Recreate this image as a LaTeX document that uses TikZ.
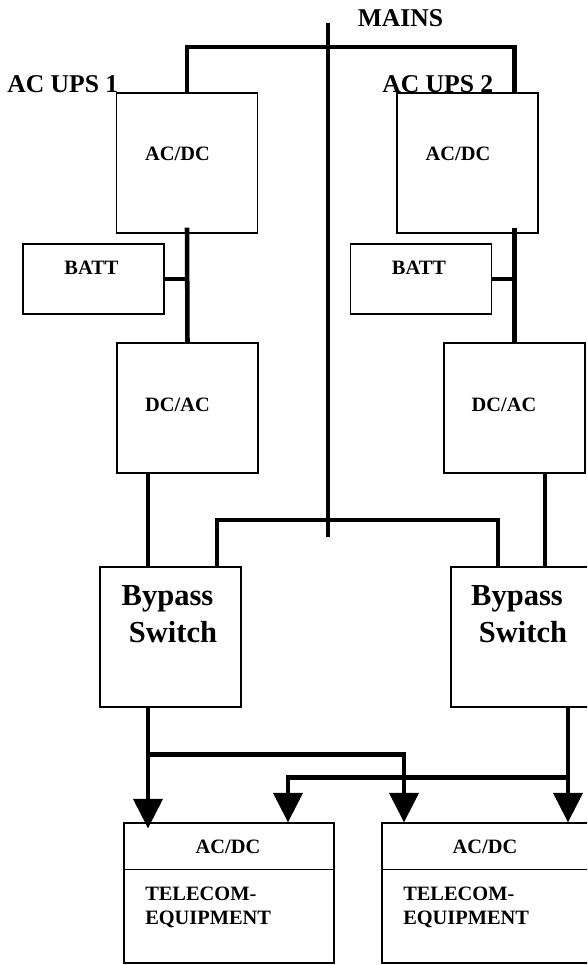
\documentclass[tikz,border=0pt]{standalone}
\usepackage{fontspec}
\setmainfont{Liberation Serif}
\usetikzlibrary{arrows.meta,calc}
\begin{document}
\begin{tikzpicture}[x=0.75pt,y=-0.75pt,
  box/.style={draw,line width=1.1pt,inner sep=0pt,minimum width=105.75pt},
  wire/.style={line width=3.4pt,line join=miter},
  arr/.style={wire,-{Triangle[width=22.5pt,length=22pt,line width=0pt]}},
  lbl/.style={inner sep=0pt,anchor=base,font=\bfseries\fontsize{15.3}{18}\selectfont},
  big/.style={inner sep=0pt,anchor=base,font=\bfseries\fontsize{19.2}{23}\selectfont},
  huge/.style={inner sep=0pt,anchor=base,font=\bfseries\fontsize{22.9}{27}\selectfont}]
\useasboundingbox (0,0) rectangle (587,965);
\clip (0,0) rectangle (587,965);
% boxes
\node[box,minimum height=105pt] (acdc1) at (187,163) {};
\node[box,minimum height=105pt] (acdc2) at (467.5,163) {};
\node[box,minimum height=52.5pt] (batt1) at (93.5,279) {};
\node[box,minimum height=52.5pt] (batt2) at (421,279) {};
\node[box,minimum height=97.5pt] (dcac1) at (187.5,408) {};
\node[box,minimum height=97.5pt] (dcac2) at (514.5,408) {};
\node[box,minimum height=105pt] (byp1) at (170.5,637) {};
\node[box,minimum height=105pt] (byp2) at (521.5,637) {};
\node[box,minimum width=157.5pt,minimum height=105pt] (tel1) at (229,893) {};
\node[box,minimum width=157.5pt,minimum height=105pt] (tel2) at (487,893) {};
\draw[line width=1.1pt] ($(tel1.north west)+(0,47)$) -- ($(tel1.north east)+(0,47)$);
\draw[line width=1.1pt] ($(tel2.north west)+(0,47)$) -- ($(tel2.north east)+(0,47)$);
% coordinates
\coordinate (mtop) at (328,23);
\coordinate (mbot) at (328,537);
\coordinate (tb) at (328,47);
\coordinate (bb) at (328,520);
\coordinate (l1) at (148,0);
\coordinate (lb) at (217,0);
\coordinate (rb) at (498,0);
\coordinate (r1) at (545,0);
\coordinate (r2) at (568,0);
\coordinate (t1) at (288,0);
\coordinate (t2) at (404,0);
% wires
\draw[wire] (mtop) -- (mbot);
\draw[wire] (acdc1.north) |- (tb) -| (acdc2.north -| dcac2.north);
\draw[wire] ($(acdc1.south)+(0,-6)$) -- (dcac1.north);
\draw[wire] (dcac2.north |- acdc2.south) ++(0,-6) -- (dcac2.north);
\draw[wire] (batt1.east) -- (batt1.east -| acdc1.south);
\draw[wire] (batt2.east) -- (batt2.east -| dcac2.north);
\draw[wire] (dcac1.south -| l1) -- (byp1.north -| l1);
\draw[wire] (dcac2.south -| r1) -- (byp2.north -| r1);
\draw[wire] (byp1.north -| lb) |- (bb) -| (byp2.north -| rb);
\draw[arr] (byp1.south -| l1) -- ($(tel1.north -| l1)+(0,6)$);
\draw[arr] ($(byp1.south -| l1)+(0,47)$) -| (tel2.north -| t2);
\draw[arr] (byp2.south -| r2) -- (tel2.north -| r2);
\draw[arr] ($(byp2.south -| r2)+(0,70)$) -| (tel1.north -| t1);
% texts
\node[big] (mains) at (400.5,26) {MAINS};
\node[big,anchor=base west] (ups1) at (7,92) {AC UPS 1};
\node[big,anchor=base west] (ups2) at (382,92) {AC UPS 2};
\node[lbl] (acdc1t) at (177.5,160) {AC/DC};
\node[lbl] (acdc2t) at (458,160) {AC/DC};
\node[lbl] (batt1t) at (91.5,274) {BATT};
\node[lbl] (batt2t) at (419,274) {BATT};
\node[lbl] (dcac1t) at (177.5,411) {DC/AC};
\node[lbl] (dcac2t) at (504,411) {DC/AC};
\node[huge] (byp1a) at (167.5,605) {Bypass};
\node[huge] (byp1b) at (173,642) {Switch};
\node[huge] (byp2a) at (517,605) {Bypass};
\node[huge] (byp2b) at (523,642) {Switch};
\node[lbl] (tel1a) at (228,853) {AC/DC};
\node[lbl] (tel2a) at (485,853) {AC/DC};
\node[lbl,anchor=base west] (tel1b) at (145,900) {TELECOM-};
\node[lbl,anchor=base west] (tel1c) at (145,924) {EQUIPMENT};
\node[lbl,anchor=base west] (tel2b) at (403,900) {TELECOM-};
\node[lbl,anchor=base west] (tel2c) at (403,924) {EQUIPMENT};
\end{tikzpicture}
\end{document}
